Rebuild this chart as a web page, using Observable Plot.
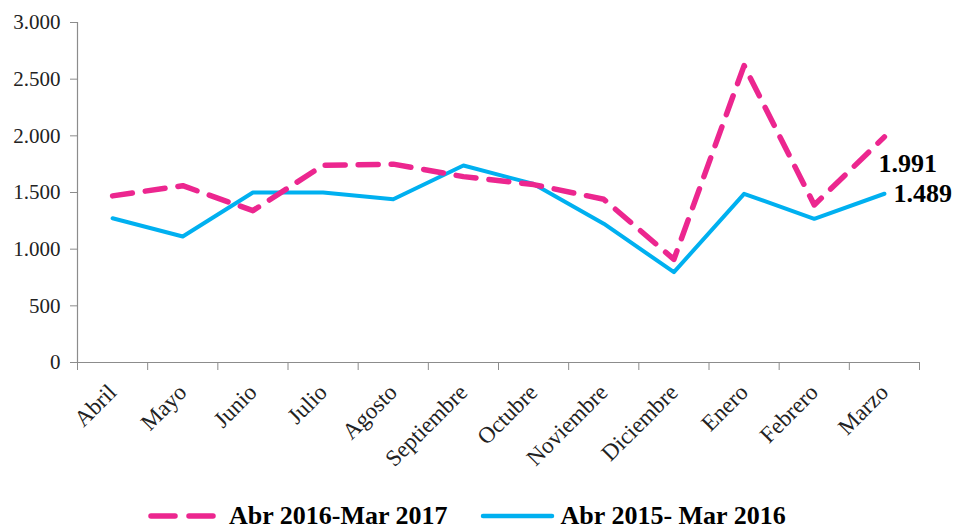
<!DOCTYPE html>
<html>
<head>
<meta charset="utf-8">
<script src="https://cdn.jsdelivr.net/npm/d3@7"></script>
<script src="https://cdn.jsdelivr.net/npm/@observablehq/plot@0.6"></script>
<style>
  body { margin: 0; background: #fff; font-family: "Liberation Serif", serif; overflow: hidden; }
  #legend { display: flex; align-items: center; height: 26px; font-weight: bold; font-size: 26px; color: #000; line-height: 26px; }
  #legend .item { display: flex; align-items: center; }
  g[aria-label="y-axis tick label"], g[aria-label="y-axis tick label"] text { font-size: 21px !important; }
  g[aria-label="x-axis tick label"], g[aria-label="x-axis tick label"] text { font-size: 23px !important; }
</style>
</head>
<body>
<div id="chart"></div>
<div id="legend"></div>
<script>
const months = ["Abril","Mayo","Junio","Julio","Agosto","Septiembre","Octubre","Noviembre","Diciembre","Enero","Febrero","Marzo"];
const series2017 = [1470, 1560, 1340, 1740, 1750, 1640, 1570, 1440, 910, 2620, 1390, 1991];
const series2016 = [1273, 1112, 1500, 1500, 1440, 1738, 1576, 1225, 797, 1488, 1268, 1489];
const seriesNames = ["Abr 2016-Mar 2017", "Abr 2015- Mar 2016"];
const seriesColors = ["#EC268F", "#00B0F0"];
const yTicks = [0, 500, 1000, 1500, 2000, 2500, 3000];

const rows2017 = months.map((m, i) => ({i: i + 0.5, month: m, v: series2017[i]}));
const rows2016 = months.map((m, i) => ({i: i + 0.5, month: m, v: series2016[i]}));
const fmt = v => d3.format(",")(v).replace(/,/g, ".");
const last = months.length - 1;

const plot = Plot.plot({
  width: 955,
  height: 503,
  marginTop: 22,
  marginBottom: 141,
  marginLeft: 77,
  marginRight: 36,
  style: {fontFamily: "Liberation Serif, serif", fontSize: "20px", color: "#222", background: "#fff", overflow: "visible"},
  x: {type: "linear", domain: [0, months.length], label: null},
  y: {domain: [0, 3000], label: null},
  marks: [
    Plot.axisY(yTicks, {tickSize: 7, tickPadding: 10, tickFormat: fmt, stroke: "#8c8c8c", fill: "#222", label: null}),
    Plot.axisX(d3.range(months.length + 1), {tickSize: 8, tickFormat: () => "", stroke: "#8c8c8c", label: null}),
    Plot.axisX(rows2017.map(d => d.i), {tickSize: 0, tickPadding: 26, tickRotate: -45, tickFormat: i => months[i - 0.5], fill: "#222", label: null}),
    Plot.ruleX([0], {stroke: "#8c8c8c", strokeWidth: 1.2}),
    Plot.ruleY([0], {stroke: "#8c8c8c", strokeWidth: 1.2}),
    Plot.line(rows2016, {x: "i", y: "v", stroke: seriesColors[1], strokeWidth: 4}),
    Plot.line(rows2017, {x: "i", y: "v", stroke: seriesColors[0], strokeWidth: 5.5, strokeDasharray: "20,13", strokeLinecap: "round"}),
    Plot.text([rows2017[last]], {x: "i", y: "v", text: d => fmt(d.v), textAnchor: "start", dx: -6, dy: 27, fontWeight: "bold", fontSize: 26, fill: "#000"}),
    Plot.text([rows2016[last]], {x: "i", y: "v", text: d => fmt(d.v), textAnchor: "start", dx: 9, dy: 0, fontWeight: "bold", fontSize: 26, fill: "#000"})
  ]
});
document.getElementById("chart").appendChild(plot);

const legend = document.getElementById("legend");
const items = [
  {name: seriesNames[0], color: seriesColors[0], dash: "24,14", width: 5.5, left: 148},
  {name: seriesNames[1], color: seriesColors[1], dash: null, width: 4.5, left: 32}
];
items.forEach(it => {
  const div = document.createElement("div");
  div.className = "item";
  div.style.marginLeft = it.left + "px";
  const ns = "http://www.w3.org/2000/svg";
  const s = document.createElementNS(ns, "svg");
  s.setAttribute("width", 75); s.setAttribute("height", 12);
  const l = document.createElementNS(ns, "line");
  l.setAttribute("x1", 3); l.setAttribute("x2", 72); l.setAttribute("y1", 6); l.setAttribute("y2", 6);
  l.setAttribute("stroke", it.color); l.setAttribute("stroke-width", it.width);
  l.setAttribute("stroke-linecap", "round");
  if (it.dash) l.setAttribute("stroke-dasharray", it.dash);
  s.appendChild(l);
  div.appendChild(s);
  const t = document.createElement("span");
  t.textContent = it.name;
  t.style.marginLeft = "6px";
  div.appendChild(t);
  legend.appendChild(div);
});
</script>
</body>
</html>
